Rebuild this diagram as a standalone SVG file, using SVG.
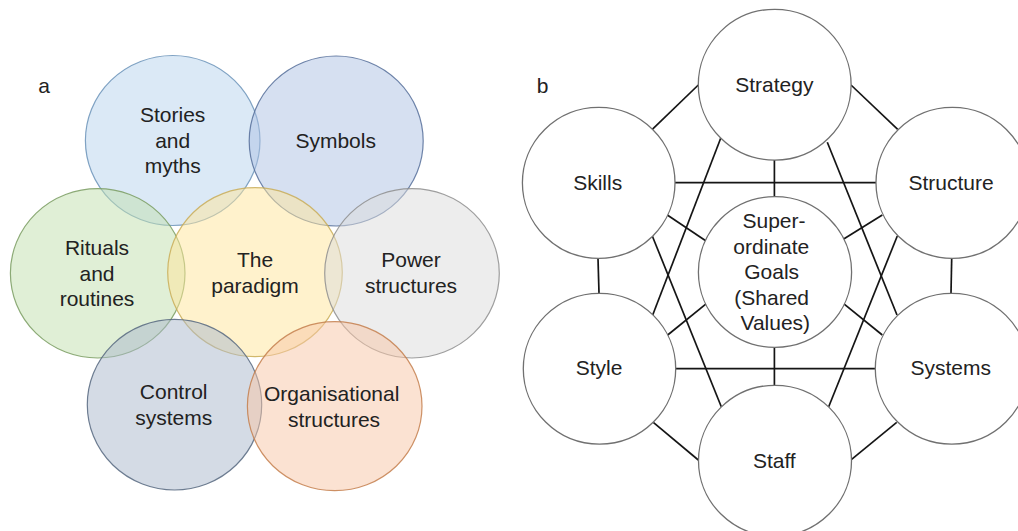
<svg xmlns="http://www.w3.org/2000/svg" width="1018" height="531" viewBox="0 0 1018 531">
<style>
text{font-family:"Liberation Sans",Arial,sans-serif;font-size:21px;fill:#222;text-anchor:middle}
.v{fill-opacity:.5;stroke-width:1.2;stroke-opacity:.85}
.n{fill:#fff;stroke:#707070;stroke-width:1.3}
#connectors line{stroke:#151515;stroke-width:1.7}
</style>
<rect width="1018" height="531" fill="#fff"/>
<text x="44" y="92.5">a</text>
<text x="542.5" y="93.3">b</text>
<g id="a-stories"><ellipse class="v" cx="172.7" cy="140.5" rx="87.3" ry="85" fill="#b8d3ee" stroke="#6b93b8"/><text x="172.7" y="122">Stories</text><text x="172.7" y="147.5">and</text><text x="172.7" y="173">myths</text></g>
<g id="a-symbols"><ellipse class="v" cx="336.2" cy="141" rx="87" ry="85" fill="#aec2e3" stroke="#566f9a"/><text x="335.7" y="148">Symbols</text></g>
<g id="a-rituals"><ellipse class="v" cx="97.7" cy="273.3" rx="87.3" ry="84.7" fill="#c2e0ae" stroke="#7a9c62"/><text x="97" y="255">Rituals</text><text x="97" y="280.7">and</text><text x="97" y="306">routines</text></g>
<g id="a-paradigm"><ellipse class="v" cx="255" cy="272.2" rx="87.3" ry="84.5" fill="#ffe59a" stroke="#c9ad58"/><text x="255" y="267.3">The</text><text x="255" y="293.3">paradigm</text></g>
<g id="a-power"><ellipse class="v" cx="412" cy="273.3" rx="87.3" ry="84.7" fill="#dcdcdc" stroke="#8e8e8e"/><text x="411" y="267.3">Power</text><text x="411" y="293.3">structures</text></g>
<g id="a-control"><ellipse class="v" cx="174.5" cy="404.7" rx="87.2" ry="85.3" fill="#aab7cb" stroke="#56677f"/><text x="173.7" y="399.3">Control</text><text x="173.7" y="425">systems</text></g>
<g id="a-organisational"><ellipse class="v" cx="334.7" cy="406.2" rx="87.3" ry="84.5" fill="#f7c5a5" stroke="#c47f4e"/><text x="331.7" y="401">Organisational</text><text x="334" y="426.7">structures</text></g>
<g id="connectors">
<line x1="652.3" y1="129.3" x2="698.3" y2="85"/>
<line x1="851" y1="85" x2="897.7" y2="129.3"/>
<line x1="951.7" y1="258.3" x2="951" y2="293.3"/>
<line x1="598" y1="258.3" x2="599" y2="293.3"/>
<line x1="653.3" y1="422.3" x2="698.3" y2="460"/>
<line x1="896.7" y1="422.3" x2="851.3" y2="459.7"/>
<line x1="675" y1="182.7" x2="876" y2="182.7"/>
<line x1="675.7" y1="368.7" x2="875.3" y2="368.7"/>
<line x1="774.4" y1="160" x2="774.4" y2="196.7"/>
<line x1="774.4" y1="347.3" x2="774.4" y2="385.3"/>
<line x1="667.3" y1="215" x2="705.7" y2="240.7"/>
<line x1="882.3" y1="215" x2="843.3" y2="239.3"/>
<line x1="667.7" y1="335" x2="706.7" y2="303.3"/>
<line x1="882.3" y1="335" x2="843.3" y2="303.3"/>
<line x1="720.7" y1="138.3" x2="652.7" y2="315"/>
<line x1="827.3" y1="142.3" x2="897" y2="315"/>
<line x1="652.3" y1="236" x2="721.3" y2="406.7"/>
<line x1="897.3" y1="236" x2="828.7" y2="406.7"/>
</g>
<g id="b-strategy"><ellipse class="n" cx="774.7" cy="84.7" rx="76.4" ry="75.4"/><text x="774.3" y="91.7">Strategy</text></g>
<g id="b-skills"><ellipse class="n" cx="598.7" cy="182.8" rx="76.3" ry="75.5"/><text x="597.7" y="190">Skills</text></g>
<g id="b-structure"><ellipse class="n" cx="952.4" cy="182.8" rx="76.4" ry="75.5"/><text x="951" y="190">Structure</text></g>
<g id="b-goals"><ellipse class="n" cx="775" cy="272" rx="76.6" ry="75.3"/><text x="774" y="228.3">Super-</text><text x="771.3" y="254">ordinate</text><text x="771.7" y="279">Goals</text><text x="771.7" y="305">(Shared</text><text x="775.3" y="330">Values)</text></g>
<g id="b-style"><ellipse class="n" cx="599.5" cy="368.7" rx="76.2" ry="75.4"/><text x="599" y="375.3">Style</text></g>
<g id="b-systems"><ellipse class="n" cx="951.8" cy="368.7" rx="76.5" ry="75.4"/><text x="950.7" y="375.3">Systems</text></g>
<g id="b-staff"><ellipse class="n" cx="775" cy="460.7" rx="76.5" ry="75.4"/><text x="774.3" y="467.7">Staff</text></g>
</svg>
